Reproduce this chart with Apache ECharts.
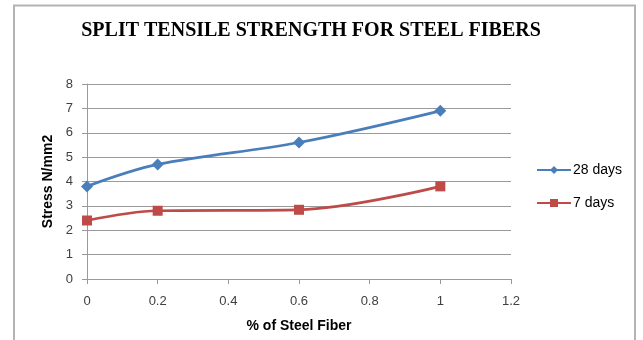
<!DOCTYPE html>
<html>
<head>
<meta charset="utf-8">
<script src="https://cdn.jsdelivr.net/npm/echarts@6/dist/echarts.min.js"></script>
<style>
  html, body { margin: 0; padding: 0; background: #fff; }
  #chart { width: 643px; height: 340px; }
</style>
</head>
<body>
<div id="chart"></div>
<script>
// Steel fiber content (%) and split tensile strength (N/mm2)
const fiberPercent = [0, 0.2, 0.6, 1.0];
const days28 = [3.8, 4.7, 5.6, 6.9];
const days7 = [2.4, 2.8, 2.84, 3.8];
const seriesNames = ['28 days', '7 days'];

const pair = (xs, ys) => xs.map((x, i) => [x, ys[i]]);
const sans = 'Liberation Sans, Arial, sans-serif';
const tickFont = { fontFamily: sans, fontSize: 13, color: '#404040' };

const chart = echarts.init(document.getElementById('chart'), null, { renderer: 'canvas' });
chart.setOption({
  backgroundColor: '#fff',
  animation: false,
  graphic: [{
    type: 'rect',
    shape: { x: 14, y: 5.5, width: 621, height: 400 },
    style: { fill: 'none', stroke: '#b4b4b4', lineWidth: 2 },
    silent: true
  }],
  title: {
    text: 'SPLIT TENSILE STRENGTH FOR STEEL FIBERS',
    left: 306, top: 16, textAlign: 'center',
    textStyle: { fontFamily: 'Liberation Serif, Times New Roman, serif', fontWeight: 'bold', fontSize: 20, color: '#000' }
  },
  grid: { left: 87, right: 132, top: 84, bottom: 61, containLabel: false },
  legend: {
    orient: 'vertical', left: 531, top: 158, itemGap: 19,
    itemWidth: 34, itemHeight: 10,
    textStyle: { fontFamily: sans, fontSize: 14, color: '#000', padding: [0, 0, 0, -3] },
    data: seriesNames
  },
  xAxis: {
    type: 'value', min: 0, max: 1.2, interval: 0.2,
    name: '% of Steel Fiber', nameLocation: 'middle', nameGap: 40,
    nameTextStyle: { fontFamily: sans, fontWeight: 'bold', fontSize: 14, color: '#000' },
    axisLine: { show: true, lineStyle: { color: '#9a9a9a', width: 1 } },
    axisTick: { show: true, length: 5, inside: false, lineStyle: { color: '#9a9a9a' } },
    axisLabel: Object.assign({ margin: 16 }, tickFont),
    splitLine: { show: false }
  },
  yAxis: {
    type: 'value', min: 0, max: 8, interval: 1,
    name: 'Stress N/mm2', nameLocation: 'middle', nameGap: 30,
    nameTextStyle: { fontFamily: sans, fontWeight: 'bold', fontSize: 14, color: '#000' },
    axisLine: { show: true, lineStyle: { color: '#9a9a9a', width: 1 } },
    axisTick: { show: true, length: 5, lineStyle: { color: '#9a9a9a' } },
    axisLabel: Object.assign({ margin: 14 }, tickFont),
    splitLine: { show: true, lineStyle: { color: '#9a9a9a', width: 1 } }
  },
  series: [
    {
      name: seriesNames[0], type: 'line', smooth: 0.35,
      data: pair(fiberPercent, days28),
      symbol: 'diamond', symbolSize: 12,
      itemStyle: { color: '#4A7EBB' },
      lineStyle: { color: '#4A7EBB', width: 2.75 }
    },
    {
      name: seriesNames[1], type: 'line', smooth: 0.35,
      data: pair(fiberPercent, days7),
      symbol: 'rect', symbolSize: 10,
      itemStyle: { color: '#BE4B48' },
      lineStyle: { color: '#BE4B48', width: 2.75 }
    }
  ]
});
</script>
</body>
</html>
